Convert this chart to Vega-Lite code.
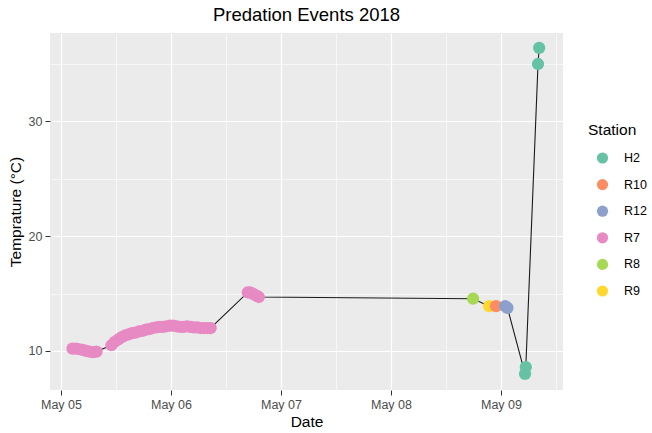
{
  "$schema": "https://vega.github.io/schema/vega-lite/v6.json",
  "width": 513,
  "height": 357,
  "autosize": {"type": "none"},
  "padding": {"left": 50, "top": 33, "right": 89, "bottom": 43},
  "background": "white",
  "title": {"text": "Predation Events 2018", "font": "Liberation Sans", "fontSize": 18.5, "fontWeight": "normal", "color": "black", "anchor": "middle", "offset": 9},
  "config": {"view": {"fill": "#EBEBEB", "stroke": null}, "font": "Liberation Sans"},
  "data": {"values": [
    {"time": "2018-05-05T02:30:00", "temp": 10.2, "Station": "R7"},
    {"time": "2018-05-05T03:15:00", "temp": 10.2, "Station": "R7"},
    {"time": "2018-05-05T04:00:00", "temp": 10.15, "Station": "R7"},
    {"time": "2018-05-05T04:45:00", "temp": 10.1, "Station": "R7"},
    {"time": "2018-05-05T05:30:00", "temp": 10.0, "Station": "R7"},
    {"time": "2018-05-05T06:15:00", "temp": 9.95, "Station": "R7"},
    {"time": "2018-05-05T07:00:00", "temp": 9.9, "Station": "R7"},
    {"time": "2018-05-05T07:45:00", "temp": 9.95, "Station": "R7"},
    {"time": "2018-05-05T11:00:00", "temp": 10.5, "Station": "R7"},
    {"time": "2018-05-05T11:45:00", "temp": 10.8, "Station": "R7"},
    {"time": "2018-05-05T12:30:00", "temp": 11.0, "Station": "R7"},
    {"time": "2018-05-05T13:15:00", "temp": 11.2, "Station": "R7"},
    {"time": "2018-05-05T14:00:00", "temp": 11.35, "Station": "R7"},
    {"time": "2018-05-05T14:45:00", "temp": 11.45, "Station": "R7"},
    {"time": "2018-05-05T15:30:00", "temp": 11.55, "Station": "R7"},
    {"time": "2018-05-05T16:15:00", "temp": 11.6, "Station": "R7"},
    {"time": "2018-05-05T17:00:00", "temp": 11.7, "Station": "R7"},
    {"time": "2018-05-05T17:45:00", "temp": 11.75, "Station": "R7"},
    {"time": "2018-05-05T18:30:00", "temp": 11.85, "Station": "R7"},
    {"time": "2018-05-05T19:15:00", "temp": 11.9, "Station": "R7"},
    {"time": "2018-05-05T20:00:00", "temp": 12.0, "Station": "R7"},
    {"time": "2018-05-05T20:45:00", "temp": 12.05, "Station": "R7"},
    {"time": "2018-05-05T21:30:00", "temp": 12.1, "Station": "R7"},
    {"time": "2018-05-05T22:15:00", "temp": 12.1, "Station": "R7"},
    {"time": "2018-05-05T23:00:00", "temp": 12.15, "Station": "R7"},
    {"time": "2018-05-05T23:45:00", "temp": 12.2, "Station": "R7"},
    {"time": "2018-05-06T00:30:00", "temp": 12.2, "Station": "R7"},
    {"time": "2018-05-06T01:15:00", "temp": 12.15, "Station": "R7"},
    {"time": "2018-05-06T02:00:00", "temp": 12.1, "Station": "R7"},
    {"time": "2018-05-06T02:45:00", "temp": 12.1, "Station": "R7"},
    {"time": "2018-05-06T03:30:00", "temp": 12.15, "Station": "R7"},
    {"time": "2018-05-06T04:15:00", "temp": 12.1, "Station": "R7"},
    {"time": "2018-05-06T05:00:00", "temp": 12.05, "Station": "R7"},
    {"time": "2018-05-06T05:45:00", "temp": 12.05, "Station": "R7"},
    {"time": "2018-05-06T06:30:00", "temp": 12.0, "Station": "R7"},
    {"time": "2018-05-06T07:15:00", "temp": 12.0, "Station": "R7"},
    {"time": "2018-05-06T08:00:00", "temp": 12.0, "Station": "R7"},
    {"time": "2018-05-06T08:40:00", "temp": 12.0, "Station": "R7"},
    {"time": "2018-05-06T16:45:00", "temp": 15.1, "Station": "R7"},
    {"time": "2018-05-06T17:15:00", "temp": 15.1, "Station": "R7"},
    {"time": "2018-05-06T17:45:00", "temp": 15.0, "Station": "R7"},
    {"time": "2018-05-06T18:15:00", "temp": 14.9, "Station": "R7"},
    {"time": "2018-05-06T18:45:00", "temp": 14.8, "Station": "R7"},
    {"time": "2018-05-06T19:10:00", "temp": 14.7, "Station": "R7"},
    {"time": "2018-05-08T17:55:00", "temp": 14.55, "Station": "R8"},
    {"time": "2018-05-08T21:25:00", "temp": 13.9, "Station": "R9"},
    {"time": "2018-05-08T22:55:00", "temp": 13.9, "Station": "R10"},
    {"time": "2018-05-09T00:55:00", "temp": 13.9, "Station": "R12"},
    {"time": "2018-05-09T01:25:00", "temp": 13.75, "Station": "R12"},
    {"time": "2018-05-09T05:15:00", "temp": 8.0, "Station": "H2"},
    {"time": "2018-05-09T05:25:00", "temp": 8.6, "Station": "H2"},
    {"time": "2018-05-09T08:05:00", "temp": 35.0, "Station": "H2"},
    {"time": "2018-05-09T08:20:00", "temp": 36.4, "Station": "H2"}
  ]},
  "resolve": {"axis": {"x": "independent", "y": "independent"}},
  "layer": [
    {
      "mark": {"type": "line", "color": "#1a1a1a", "strokeWidth": 1.1},
      "encoding": {
        "x": {"field": "time", "type": "temporal",
          "scale": {"domain": [{"year": 2018, "month": 5, "date": 4, "hours": 21, "minutes": 36}, {"year": 2018, "month": 5, "date": 9, "hours": 13, "minutes": 32}]},
          "axis": {"orient": "bottom", "values": [{"year": 2018, "month": 5, "date": 5}, {"year": 2018, "month": 5, "date": 6}, {"year": 2018, "month": 5, "date": 7}, {"year": 2018, "month": 5, "date": 8}, {"year": 2018, "month": 5, "date": 9}],
            "format": "%b %d", "grid": true, "gridColor": "white", "gridWidth": 1.2, "domain": false,
            "tickColor": "#333333", "tickSize": 5, "tickWidth": 1, "labelColor": "#4D4D4D", "labelFontSize": 12.5, "labelPadding": 3,
            "title": "Date", "titleFontSize": 15.5, "titleFontWeight": "normal", "titleColor": "black", "titlePadding": 4, "labelFlush": false}},
        "y": {"field": "temp", "type": "quantitative",
          "scale": {"domain": [6.6, 37.7], "nice": false, "zero": false},
          "axis": {"orient": "left", "values": [10, 20, 30], "grid": true, "gridColor": "white", "gridWidth": 1.2, "domain": false,
            "tickColor": "#333333", "tickSize": 5, "tickWidth": 1, "labelColor": "#4D4D4D", "labelFontSize": 12.5, "labelPadding": 3,
            "title": "Temprature (°C)", "titleFontSize": 15.5, "titleFontWeight": "normal", "titleColor": "black", "titlePadding": 5}}
      }
    },
    {
      "mark": {"type": "circle", "opacity": 1, "size": 150},
      "encoding": {
        "x": {"field": "time", "type": "temporal",
          "axis": {"orient": "bottom", "values": [{"year": 2018, "month": 5, "date": 5, "hours": 12}, {"year": 2018, "month": 5, "date": 6, "hours": 12}, {"year": 2018, "month": 5, "date": 7, "hours": 12}, {"year": 2018, "month": 5, "date": 8, "hours": 12}, {"year": 2018, "month": 5, "date": 9, "hours": 12}],
            "grid": true, "gridColor": "white", "gridWidth": 0.6, "domain": false, "ticks": false, "labels": false, "title": null}},
        "y": {"field": "temp", "type": "quantitative",
          "axis": {"orient": "left", "values": [15, 25, 35], "grid": true, "gridColor": "white", "gridWidth": 0.6, "domain": false, "ticks": false, "labels": false, "title": null}},
        "color": {"field": "Station", "type": "nominal",
          "scale": {"domain": ["H2", "R10", "R12", "R7", "R8", "R9"], "range": ["#66C2A5", "#FC8D62", "#8DA0CB", "#E78AC3", "#A6D854", "#FFD92F"]},
          "legend": {"orient": "none", "legendX": 538, "legendY": 90, "title": "Station", "titleFontSize": 15.5, "titleFontWeight": "normal", "titleColor": "black",
            "labelFontSize": 12.5, "labelColor": "black", "symbolSize": 125, "symbolType": "circle", "symbolOffset": 8, "labelOffset": 15, "rowPadding": 13.6, "titlePadding": 13}}
      }
    }
  ]
}
